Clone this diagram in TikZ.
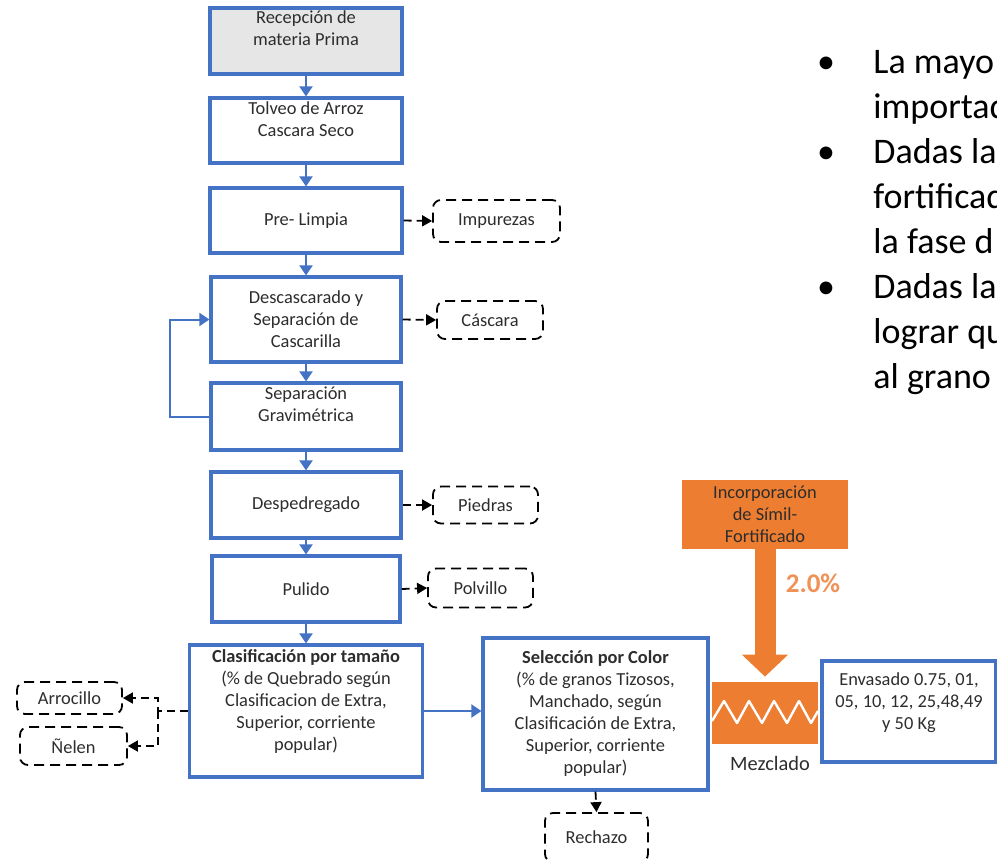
\documentclass[tikz,border=0pt]{standalone}
\usepackage{fontspec}
\setmainfont{Carlito}
\usepackage{tikz}
\usetikzlibrary{arrows.meta,positioning}
\usepackage{xcolor}
\definecolor{dfblue}{RGB}{68,114,196}
\definecolor{dforange}{RGB}{237,125,49}
\definecolor{dflightorange}{RGB}{240,145,85}
\definecolor{dfgray}{RGB}{231,230,230}
\definecolor{dftext}{RGB}{45,45,45}
\tikzstyle{process} = [rectangle, draw=dfblue, line width=1.6pt, fill=white, align=center, text=dftext, inner sep=0pt, font=\fontsize{9.2}{11}\selectfont]
\tikzstyle{residue} = [rectangle, rounded corners=4pt, draw=black, line width=0.9pt, dash pattern=on 5pt off 3pt, align=center, text=dftext, inner sep=0pt, font=\fontsize{9.2}{11}\selectfont]
\tikzstyle{additive} = [rectangle, fill=dforange, align=center, text=dftext, inner sep=0pt, font=\fontsize{9.2}{11}\selectfont]
\tikzstyle{arrow} = [line width=1pt, -{Triangle[length=5pt,width=6.5pt]}, color=dfblue]
\tikzstyle{dasharrow} = [line width=0.9pt, dash pattern=on 4pt off 2.5pt, -{Triangle[length=5pt,width=5.5pt]}, color=black]
\tikzstyle{bigarrow} = [line width=10.5pt, -{Triangle[length=11pt,width=22.5pt]}, color=dforange, shorten >=2.5pt]
\tikzstyle{note} = [inner sep=0pt, text=black, font=\fontsize{18}{22.5}\selectfont]

\begin{document}
\begin{tikzpicture}[x=0.5pt,y=-0.5pt]
\useasboundingbox (0,0) rectangle (997,859);
\clip (0,0) rectangle (997,859);

% Main line
\node[process, fill=dfgray, minimum width=96pt, minimum height=33pt, text depth=13pt] (recep) at (306,41) {Recepción de\\materia Prima};
\node[process, minimum width=96pt, minimum height=32.5pt, text depth=11pt] (tolveo) at (306,130.5) {Tolveo de Arroz\\Cascara Seco};
\node[process, minimum width=96pt, minimum height=32.5pt] (prelimpia) at (306,220.5) {Pre- Limpia};
\node[process, minimum width=95pt, minimum height=42.5pt] (descas) at (306,319.5) {Descascarado y\\Separación de\\Cascarilla};
\node[process, minimum width=95pt, minimum height=33.5pt, text depth=12pt] (sepgrav) at (306,416.5) {Separación\\Gravimétrica};
\node[process, minimum width=95pt, minimum height=33pt] (despedre) at (306,505) {Despedregado};
\node[process, minimum width=94pt, minimum height=33pt] (pulido) at (306,589) {Pulido};
\node[process, minimum width=116.5pt, minimum height=66pt, text depth=11pt] (clasif) at (306,711) {\textbf{Clasificación por tamaño}\\(\% de Quebrado según\\Clasificacion de Extra,\\Superior, corriente\\popular)};
\node[process, minimum width=112.5pt, minimum height=76pt] (selec) at (595.5,714) {\textbf{Selección por Color}\\(\% de granos Tizosos,\\Manchado, según\\Clasificación de Extra,\\Superior, corriente\\popular)};

% Residues
\node[residue, minimum width=63.5pt, minimum height=21pt] (impurezas) at (496.5,221) {Impurezas};
\node[residue, minimum width=53pt, minimum height=19pt] (cascara) at (490,320) {Cáscara};
\node[residue, minimum width=52.5pt, minimum height=18.5pt] (piedras) at (485.5,505) {Piedras};
\node[residue, minimum width=52.5pt, minimum height=19.5pt] (polvillo) at (480.5,588) {Polvillo};
\node[residue, minimum width=52.5pt, minimum height=16pt] (arrocillo) at (69.5,698) {Arrocillo};
\node[residue, minimum width=53.5pt, minimum height=19pt] (nelen) at (73.5,746) {Ñelen};
\node[residue, minimum width=51.5pt, minimum height=24.5pt] (rechazo) at (596.5,837.5) {Rechazo};
\coordinate (split) at (158,711);

% Fortification and packing
\node[additive, minimum width=83pt, minimum height=34.5pt] (incorp) at (765,514.5) {Incorporación\\de Símil-\\Fortificado};
\node[additive, minimum width=53pt, minimum height=31pt] (mezcla) at (765,713) {};
\node[inner sep=0pt, text=dftext, font=\fontsize{10.2}{12}\selectfont] (mezlabel) at (770,763) {Mezclado};
\node[inner sep=0pt, text=dflightorange, font=\fontsize{13.5}{16}\selectfont\bfseries] (pct) at (813,583) {2.0\%};
\node[process, minimum width=87pt, minimum height=50.5pt, text depth=10pt] (envasado) at (909,711.5) {Envasado 0.75, 01,\\05, 10, 12, 25,48,49\\y 50 Kg};

% Arrows
\draw[arrow] (recep) -- (tolveo);
\draw[arrow] (tolveo) -- (prelimpia);
\draw[arrow] (prelimpia) -- (descas);
\draw[arrow] (descas) -- (sepgrav);
\draw[arrow] (sepgrav) -- (despedre);
\draw[arrow] (despedre) -- (pulido);
\draw[arrow] (pulido) -- (clasif);
\draw[arrow] (sepgrav.west) -- ++(-39,0) |- (descas.west);
\draw[arrow] (clasif.east) -- (clasif.east -| selec.west);
\draw[dasharrow] (prelimpia.east) -- (impurezas.west);
\draw[dasharrow] (descas.east) -- (cascara.west);
\draw[dasharrow] (despedre.east) -- (piedras.west);
\draw[dasharrow] (pulido.east) -- (polvillo.west);
\draw[dasharrow] (clasif.west) -- (split) |- (arrocillo.east);
\draw[dasharrow] (split) |- (nelen.east);
\draw[dasharrow] (selec.south) -- (rechazo.north);
\draw[bigarrow] (incorp.south) -- (mezcla.north);

% Mixer zigzag
\draw[white, line width=1.2pt, line join=round] (712,721) -- (724,701) -- (737,723) -- (749,701) -- (762,723) -- (774,701) -- (787,723) -- (799,701) -- (811,723) -- (818,711);

% Notes on the right
\foreach \txt [count=\i] in {La mayo, importad, Dadas la, fortificad, la fase d, Dadas la, lograr qu, al grano}
  \node[note, anchor=base west] (line\i) at (873,28+45*\i) {\txt};
\foreach \i in {1,3,6}
  \node[note, anchor=base] (bullet\i) at (826,28+45*\i) {\textbullet};
\end{tikzpicture}
\end{document}
